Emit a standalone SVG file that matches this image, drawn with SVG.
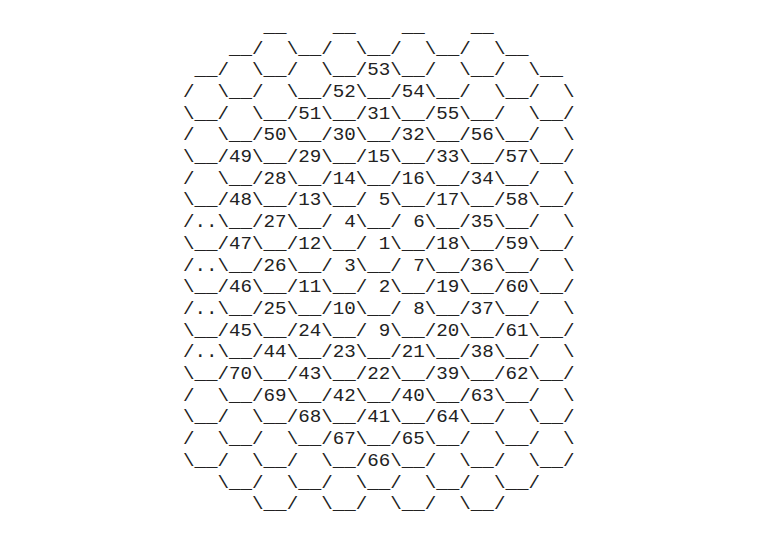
<svg xmlns="http://www.w3.org/2000/svg" width="780" height="537" viewBox="0 0 780 537">
<style>
.a{font-family:"Liberation Mono","Courier New",monospace;font-size:19.2px;fill:#222;white-space:pre}
</style>
<rect width="780" height="537" fill="#ffffff"/>
<g id="hexgrid">
<text class="a" xml:space="preserve" x="183" y="31.8"><tspan x="183" y="31.8">       __    __    __    __</tspan><tspan x="183" y="53.5">    __/  \__/  \__/  \__/  \__</tspan><tspan x="183" y="75.2"> __/  \__/  \__/53\__/  \__/  \__</tspan><tspan x="183" y="96.9">/  \__/  \__/52\__/54\__/  \__/  \</tspan><tspan x="183" y="118.6">\__/  \__/51\__/31\__/55\__/  \__/</tspan><tspan x="183" y="140.3">/  \__/50\__/30\__/32\__/56\__/  \</tspan><tspan x="183" y="162">\__/49\__/29\__/15\__/33\__/57\__/</tspan><tspan x="183" y="183.7">/  \__/28\__/14\__/16\__/34\__/  \</tspan><tspan x="183" y="205.4">\__/48\__/13\__/ 5\__/17\__/58\__/</tspan><tspan x="183" y="227.1">/..\__/27\__/ 4\__/ 6\__/35\__/  \</tspan><tspan x="183" y="248.8">\__/47\__/12\__/ 1\__/18\__/59\__/</tspan><tspan x="183" y="270.5">/..\__/26\__/ 3\__/ 7\__/36\__/  \</tspan><tspan x="183" y="292.2">\__/46\__/11\__/ 2\__/19\__/60\__/</tspan><tspan x="183" y="313.9">/..\__/25\__/10\__/ 8\__/37\__/  \</tspan><tspan x="183" y="335.6">\__/45\__/24\__/ 9\__/20\__/61\__/</tspan><tspan x="183" y="357.3">/..\__/44\__/23\__/21\__/38\__/  \</tspan><tspan x="183" y="379">\__/70\__/43\__/22\__/39\__/62\__/</tspan><tspan x="183" y="400.7">/  \__/69\__/42\__/40\__/63\__/  \</tspan><tspan x="183" y="422.4">\__/  \__/68\__/41\__/64\__/  \__/</tspan><tspan x="183" y="444.1">/  \__/  \__/67\__/65\__/  \__/  \</tspan><tspan x="183" y="465.8">\__/  \__/  \__/66\__/  \__/  \__/</tspan><tspan x="183" y="487.5">   \__/  \__/  \__/  \__/  \__/</tspan><tspan x="183" y="509.2">      \__/  \__/  \__/  \__/</tspan></text>
</g>
</svg>
